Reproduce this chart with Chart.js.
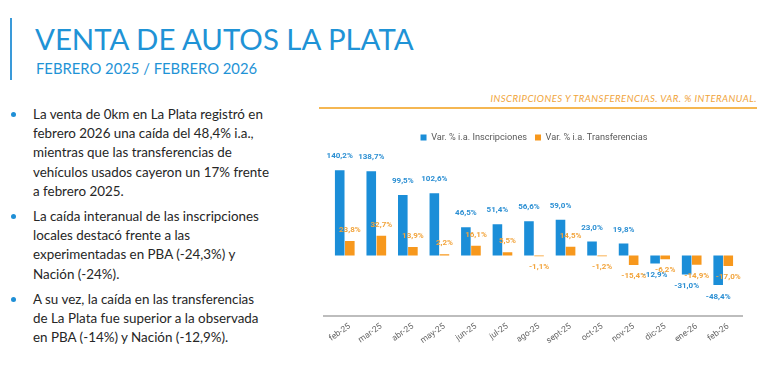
<!DOCTYPE html>
<html lang="es">
<head>
<meta charset="UTF-8">
<title>Venta de autos La Plata</title>
<script src="https://cdn.jsdelivr.net/npm/chart.js"></script>
<style>
  body {
    margin: 0;
    width: 768px;
    height: 369px;
    background: #fff;
    font-family: Lato, "Noto Sans", sans-serif;
    position: relative;
    overflow: hidden;
  }
  .side-bar {
    position: absolute;
    left: 10px;
    top: 18px;
    width: 2px;
    height: 62px;
    background: #3a9ad9;
  }
  .title {
    position: absolute;
    left: 35px;
    top: 21px;
    font-size: 29.4px;
    color: #1f93d6;
    white-space: nowrap;
  }
  .subtitle {
    position: absolute;
    left: 36px;
    top: 59px;
    font-size: 14.8px;
    color: #1f93d6;
    white-space: nowrap;
  }
  .bullets {
    position: absolute;
    left: 0;
    top: 105px;
    color: #262626;
    font-size: 13.4px;
    line-height: 19.2px;
  }
  .bullet {
    position: relative;
    padding-left: 33px;
    margin-bottom: 6px;
    white-space: nowrap;
  }
  .bullet::before {
    content: '';
    position: absolute;
    left: 11px;
    top: 7px;
    width: 5px;
    height: 5px;
    border-radius: 50%;
    background: #1f8fd6;
  }
  .chart-title {
    position: absolute;
    right: 11px;
    top: 93px;
    font-size: 9.6px;
    font-style: italic;
    color: #f0a43a;
    white-space: nowrap;
    letter-spacing: 0.45px;
  }
  .chart-rule {
    position: absolute;
    left: 319px;
    top: 107px;
    width: 438px;
    height: 2px;
    background: #f5b752;
  }
  .axis-rule {
    position: absolute;
    left: 323px;
    top: 315px;
    width: 420px;
    height: 2px;
    background: #bdbdbd;
  }
  .chart-box {
    position: absolute;
    left: 313px;
    top: 125px;
    width: 450px;
    height: 230px;
  }
</style>
</head>
<body>
  <div class="side-bar"></div>
  <div class="title">VENTA DE AUTOS LA PLATA</div>
  <div class="subtitle">FEBRERO 2025 / FEBRERO 2026</div>

  <div class="bullets">
    <div class="bullet">La venta de 0km en La Plata registró en<br>febrero 2026 una caída del 48,4% i.a.,<br>mientras que las transferencias de<br>vehículos usados cayeron un 17% frente<br>a febrero 2025.</div>
    <div class="bullet">La caída interanual de las inscripciones<br>locales destacó frente a las<br>experimentadas en PBA (-24,3%) y<br>Nación (-24%).</div>
    <div class="bullet">A su vez, la caída en las transferencias<br>de La Plata fue superior a la observada<br>en PBA (-14%) y Nación (-12,9%).</div>
  </div>

  <div class="chart-title">INSCRIPCIONES Y TRANSFERENCIAS. VAR. % INTERANUAL.</div>
  <div class="chart-rule"></div>
  <div class="axis-rule"></div>

  <div class="chart-box"><canvas id="barChart"></canvas></div>

<script>
const months = ['feb-25', 'mar-25', 'abr-25', 'may-25', 'jun-25', 'jul-25', 'ago-25',
  'sept-25', 'oct-25', 'nov-25', 'dic-25', 'ene-26', 'feb-26'];
const inscripciones = [140.2, 138.7, 99.5, 102.6, 46.5, 51.4, 56.6, 59.0, 23.0, 19.8, -12.9, -31.0, -48.4];
const transferencias = [23.8, 32.7, 13.9, 2.2, 16.1, 5.5, -1.1, 14.5, -1.2, -15.4, -6.2, -14.9, -17.0];

const blue = '#1b8ed8';
const orange = '#f7981d';

// value labels (no datalabels plugin available offline)
const valueLabels = {
  id: 'valueLabels',
  afterDraw(chart) {
    const ctx = chart.ctx;
    ctx.save();
    ctx.font = 'bold 8px Roboto, sans-serif';
    ctx.textAlign = 'center';
    ctx.textBaseline = 'middle';
    chart.data.datasets.forEach((ds, i) => {
      const meta = chart.getDatasetMeta(i);
      ctx.fillStyle = i === 0 ? '#2b8fd3' : '#f2a43c';
      meta.data.forEach((bar, j) => {
        const v = ds.data[j];
        const txt = v.toFixed(1).replace('.', ',') + '%';
        let y;
        if (v >= 0) y = bar.y - (i === 0 ? 14 : 11);
        else y = bar.y + (i === 0 ? 12 : 11);
        ctx.fillText(txt, bar.x, y);
      });
    });
    ctx.restore();
  }
};

const ctx = document.getElementById('barChart').getContext('2d');
new Chart(ctx, {
  type: 'bar',
  data: {
    labels: months,
    datasets: [
      { label: 'Var. % i.a. Inscripciones', data: inscripciones, backgroundColor: blue },
      { label: 'Var. % i.a. Transferencias', data: transferencias, backgroundColor: orange }
    ]
  },
  options: {
    responsive: true,
    maintainAspectRatio: false,
    animation: false,
    categoryPercentage: 0.64,
    barPercentage: 0.95,
    layout: { padding: { left: 16, right: 24, top: 0, bottom: 4 } },
    plugins: {
      legend: {
        position: 'top',
        labels: {
          boxWidth: 6,
          boxHeight: 6,
          padding: 8,
          color: '#595959',
          font: { family: 'Roboto', size: 9.2 }
        }
      },
      tooltip: { enabled: false }
    },
    scales: {
      y: {
        display: false,
        min: -100,
        max: 170
      },
      x: {
        grid: { display: false, drawTicks: false },
        border: { display: false },
        ticks: {
          color: '#666',
          font: { family: 'Roboto', size: 8.5 },
          minRotation: 35,
          maxRotation: 35,
          padding: 5,
          labelOffset: 5
        }
      }
    }
  },
  plugins: [valueLabels]
});
</script>
</body>
</html>
